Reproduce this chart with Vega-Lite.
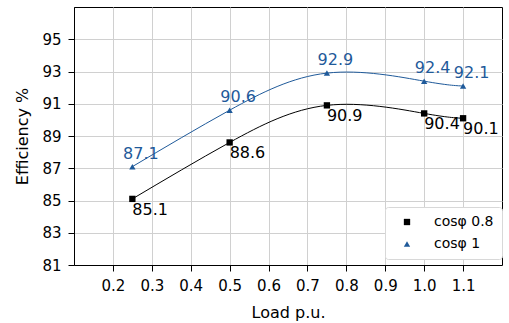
{
  "$schema": "https://vega.github.io/schema/vega-lite/v6.json",
  "width": 428,
  "height": 258,
  "autosize": {"type": "none"},
  "padding": {"left": 74, "top": 7, "right": 7, "bottom": 58},
  "background": "white",
  "config": {
    "font": "DejaVu Sans",
    "view": {"stroke": "black", "strokeWidth": 1},
    "axis": {
      "domainColor": "black",
      "tickColor": "black",
      "tickSize": 6,
      "labelFontSize": 15,
      "labelColor": "black",
      "titleFontSize": 16,
      "titleFontWeight": "normal",
      "titleColor": "black",
      "gridColor": "#d0d0d0",
      "gridWidth": 1,
      "labelPadding": 7
    },
    "legend": {
      "orient": "none",
      "legendX": 311,
      "legendY": 200,
      "fillColor": "white",
      "strokeColor": "#d8d8d8",
      "cornerRadius": 3,
      "padding": 8,
      "rowPadding": 8,
      "symbolOffset": 7,
      "labelOffset": 20,
      "labelFontSize": 14,
      "labelColor": "black",
      "symbolSize": 40,
      "title": null
    }
  },
  "data": {
    "values": [
      {"series": "cosφ 0.8", "load": 0.25, "eff": 85.1},
      {"series": "cosφ 0.8", "load": 0.5, "eff": 88.6},
      {"series": "cosφ 0.8", "load": 0.75, "eff": 90.9},
      {"series": "cosφ 0.8", "load": 1.0, "eff": 90.4},
      {"series": "cosφ 0.8", "load": 1.1, "eff": 90.1},
      {"series": "cosφ 1", "load": 0.25, "eff": 87.1},
      {"series": "cosφ 1", "load": 0.5, "eff": 90.6},
      {"series": "cosφ 1", "load": 0.75, "eff": 92.9},
      {"series": "cosφ 1", "load": 1.0, "eff": 92.4},
      {"series": "cosφ 1", "load": 1.1, "eff": 92.1}
    ]
  },
  "encoding": {
    "x": {
      "field": "load",
      "type": "quantitative",
      "scale": {"domain": [0.1, 1.2], "nice": false, "zero": false},
      "axis": {
        "values": [0.2, 0.3, 0.4, 0.5, 0.6, 0.7, 0.8, 0.9, 1.0, 1.1],
        "format": ".1f",
        "title": "Load p.u.",
        "titleY": 39,
        "titleBaseline": "top"
      }
    },
    "y": {
      "field": "eff",
      "type": "quantitative",
      "scale": {"domain": [81, 97], "nice": false, "zero": false},
      "axis": {
        "values": [81, 83, 85, 87, 89, 91, 93, 95],
        "title": "Efficiency %",
        "titleX": -52,
        "titleY": 129,
        "titleAngle": -90,
        "titleAlign": "center",
        "titleBaseline": "middle"
      }
    }
  },
  "layer": [
    {
      "transform": [{"filter": "datum.series === 'cosφ 0.8'"}],
      "mark": {"type": "line", "interpolate": "natural", "color": "black", "strokeWidth": 1}
    },
    {
      "transform": [{"filter": "datum.series === 'cosφ 1'"}],
      "mark": {"type": "line", "interpolate": "natural", "color": "#1f5a9a", "strokeWidth": 1}
    },
    {
      "mark": {"type": "point", "filled": true, "opacity": 1},
      "encoding": {
        "color": {
          "field": "series",
          "type": "nominal",
          "scale": {"domain": ["cosφ 0.8", "cosφ 1"], "range": ["black", "#1f5a9a"]}
        },
        "shape": {
          "field": "series",
          "type": "nominal",
          "scale": {"domain": ["cosφ 0.8", "cosφ 1"], "range": ["square", "triangle-up"]}
        },
        "size": {"value": 40}
      }
    },
    {
      "transform": [{"filter": "datum.series === 'cosφ 0.8'"}],
      "mark": {"type": "text", "align": "left", "baseline": "top", "dx": 0, "dy": 3, "fontSize": 16, "color": "black"},
      "encoding": {"text": {"field": "eff", "type": "quantitative", "format": ".1f"}}
    },
    {
      "transform": [{"filter": "datum.series === 'cosφ 1'"}],
      "mark": {"type": "text", "align": "center", "baseline": "alphabetic", "dx": 8.5, "dy": -8, "fontSize": 16, "color": "#1f5a9a"},
      "encoding": {"text": {"field": "eff", "type": "quantitative", "format": ".1f"}}
    }
  ]
}
